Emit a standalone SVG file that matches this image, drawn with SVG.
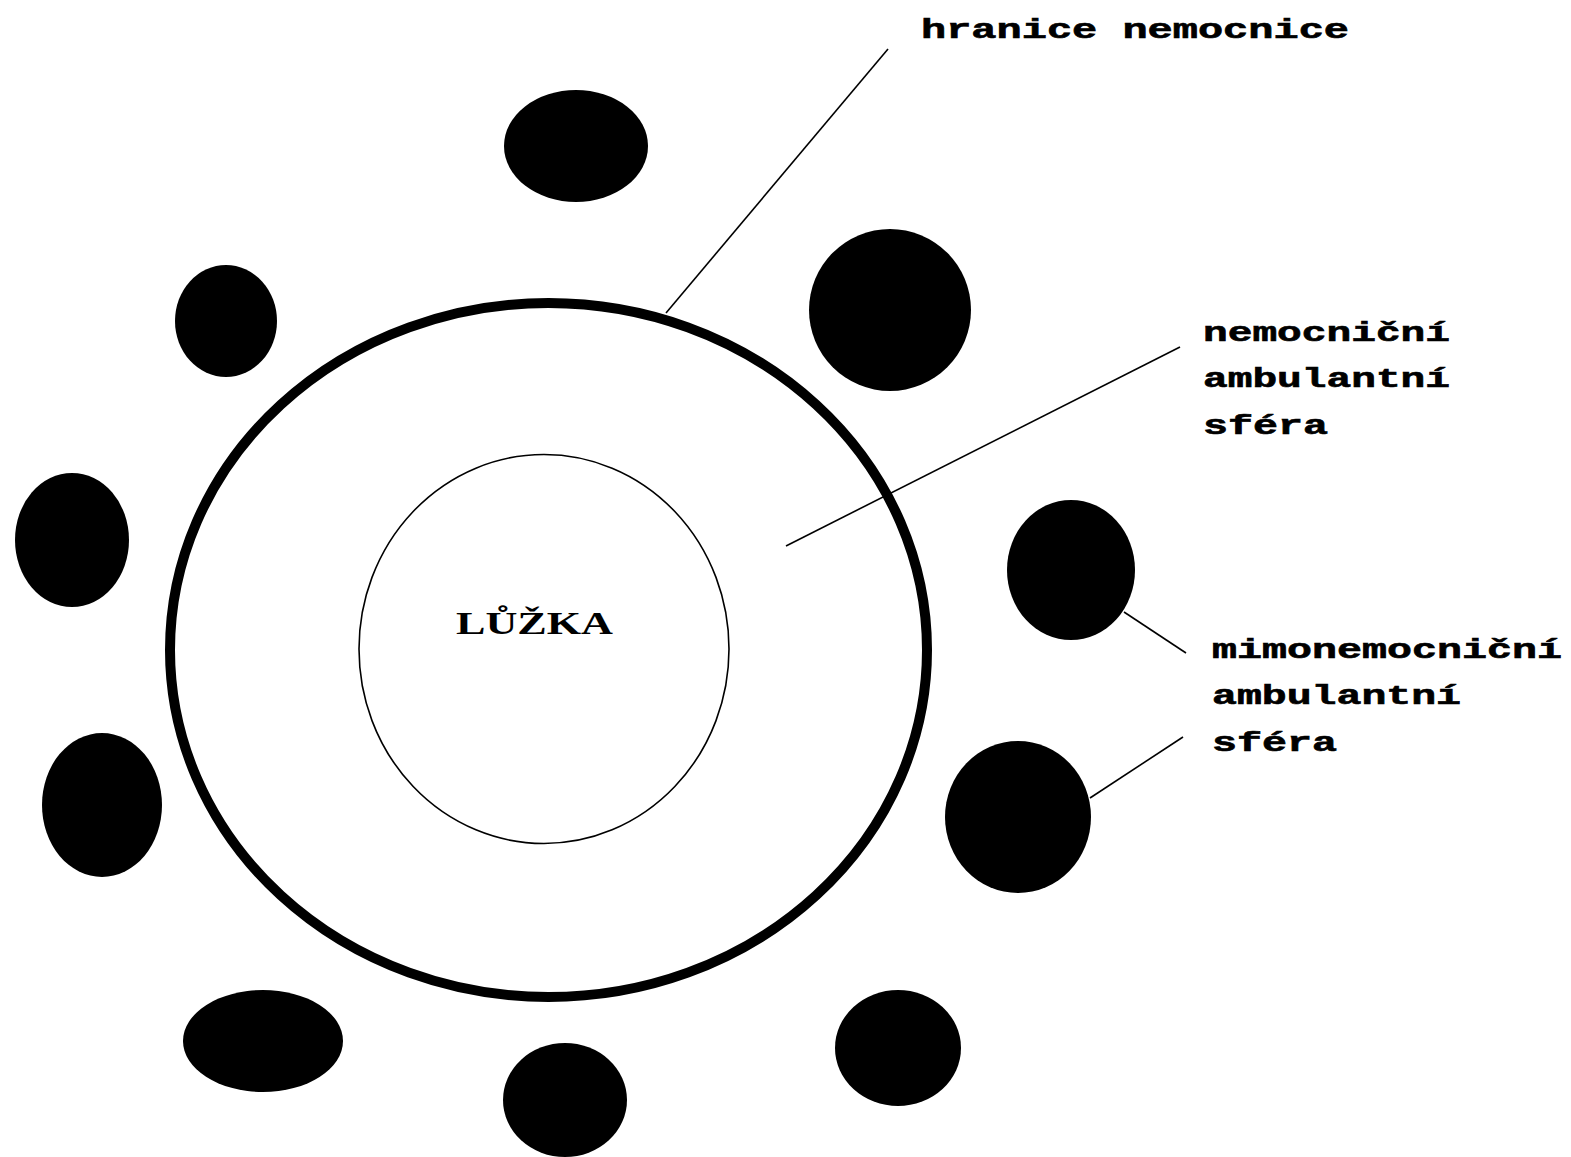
<svg xmlns="http://www.w3.org/2000/svg" width="1571" height="1157" viewBox="0 0 1571 1157">
<style>
.blob{fill:#000;stroke:none}
.lbl{font-family:"Liberation Mono","DejaVu Sans Mono",monospace;font-weight:bold;font-size:27px;fill:#000;stroke:#000;stroke-width:0.6}
.ln{stroke:#000;stroke-width:1.6;fill:none}
</style>
<rect width="1571" height="1157" fill="#fff"/>
<g id="hospital-boundary">
<ellipse cx="548.5" cy="650" rx="378.5" ry="347" fill="none" stroke="#000" stroke-width="10"/>
</g>
<g id="beds">
<ellipse cx="544" cy="649" rx="185" ry="194.5" fill="none" stroke="#000" stroke-width="1.6"/>
<text x="456" y="634" font-family="'Liberation Serif','DejaVu Serif',serif" font-weight="bold" font-size="32" textLength="157" lengthAdjust="spacingAndGlyphs">LŮŽKA</text>
</g>
<g id="outpatient-units">
<ellipse class="blob" cx="576" cy="146" rx="72" ry="56"/>
<ellipse class="blob" cx="890" cy="310" rx="81" ry="81"/>
<ellipse class="blob" cx="226" cy="321" rx="51" ry="56"/>
<ellipse class="blob" cx="72" cy="540" rx="57" ry="67"/>
<ellipse class="blob" cx="1071" cy="570" rx="64" ry="70"/>
<ellipse class="blob" cx="102" cy="805" rx="60" ry="72"/>
<ellipse class="blob" cx="1018" cy="817" rx="73" ry="76"/>
<ellipse class="blob" cx="263" cy="1041" rx="80" ry="51"/>
<ellipse class="blob" cx="565" cy="1100" rx="62" ry="57"/>
<ellipse class="blob" cx="898" cy="1048" rx="63" ry="58"/>
</g>
<g id="connectors">
<line class="ln" x1="888" y1="49" x2="666" y2="313"/>
<line class="ln" x1="1180" y1="347" x2="786" y2="546"/>
<line class="ln" x1="1124" y1="612" x2="1186" y2="653"/>
<line class="ln" x1="1090" y1="798" x2="1183" y2="737"/>
</g>
<g id="label-boundary">
<text class="lbl" x="921" y="38" textLength="428" lengthAdjust="spacingAndGlyphs">hranice nemocnice</text>
</g>
<g id="label-hospital-outpatient">
<text class="lbl" x="1203" y="341" textLength="247" lengthAdjust="spacingAndGlyphs">nemocniční</text>
<text class="lbl" x="1203" y="387" textLength="247" lengthAdjust="spacingAndGlyphs">ambulantní</text>
<text class="lbl" x="1203" y="434" textLength="125" lengthAdjust="spacingAndGlyphs">sféra</text>
</g>
<g id="label-nonhospital-outpatient">
<text class="lbl" x="1212" y="658" textLength="350" lengthAdjust="spacingAndGlyphs">mimonemocniční</text>
<text class="lbl" x="1212" y="704" textLength="249" lengthAdjust="spacingAndGlyphs">ambulantní</text>
<text class="lbl" x="1212" y="751" textLength="125" lengthAdjust="spacingAndGlyphs">sféra</text>
</g>
</svg>
